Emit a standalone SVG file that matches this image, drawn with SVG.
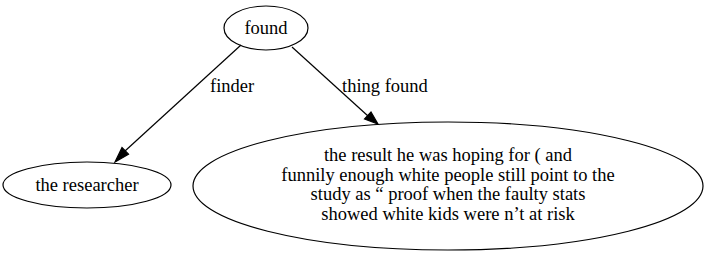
<svg xmlns="http://www.w3.org/2000/svg" width="707" height="255" viewBox="0 0 707 255">
  <style>
    .node ellipse { fill: none; stroke: #000; stroke-width: 1.2; }
    .edge path { fill: none; stroke: #000; stroke-width: 1.2; }
    .edge polygon { fill: #000; stroke: #000; stroke-width: 1.2; }
  </style>
  <rect width="707" height="255" fill="#fff"/>

  <g font-family="'Liberation Serif', 'Times New Roman', Times, serif" font-size="18.5" fill="#000">
    <g id="edges" class="edge">
      <!-- found -> the researcher -->
      <path d="M241,45 L125,151"/>
      <polygon points="128.5,154.2 115,162 122,147.5"/>
      <text x="210" y="92">finder</text>
      <!-- found -> result -->
      <path d="M292,47 L368,116"/>
      <polygon points="364.5,119 378,124 371,112"/>
      <text x="342" y="92">thing found</text>
    </g>

    <g id="found" class="node">
      <ellipse cx="266" cy="28" rx="42" ry="22"/>
      <text x="266" y="34" text-anchor="middle">found</text>
    </g>

    <g id="researcher" class="node">
      <ellipse cx="87" cy="185" rx="84" ry="23"/>
      <text x="87" y="191" text-anchor="middle">the researcher</text>
    </g>

    <g id="result" class="node">
      <ellipse cx="448" cy="186" rx="255" ry="64"/>
      <text x="448" y="161" text-anchor="middle">the result he was hoping for ( and</text>
      <text x="448" y="180.5" text-anchor="middle">funnily enough white people still point to the</text>
      <text x="448" y="200" text-anchor="middle">study as “ proof when the faulty stats</text>
      <text x="448" y="219.5" text-anchor="middle">showed white kids were n’t at risk</text>
    </g>
  </g>
</svg>
